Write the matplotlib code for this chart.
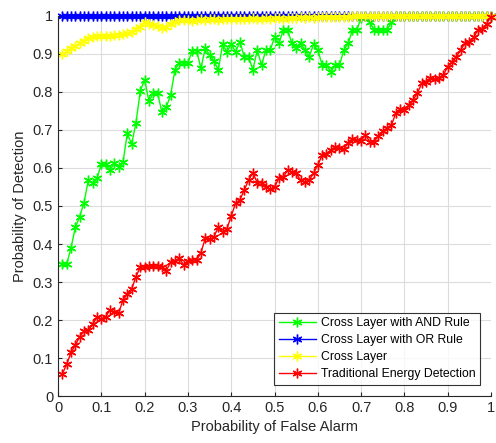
import matplotlib
matplotlib.use("Agg")
import matplotlib.pyplot as plt

plt.rcParams['font.family'] = ['Liberation Sans', 'DejaVu Sans']

# false alarm probability axis (steps of 0.01)
pf = [i / 100 for i in range(1, 101)]

# Cross Layer with AND Rule
pd_and = [0.347, 0.347, 0.39, 0.444, 0.472, 0.509, 0.568, 0.56, 0.573, 0.61,
          0.61, 0.595, 0.612, 0.603, 0.615, 0.691, 0.663, 0.719, 0.803, 0.832,
          0.775, 0.797, 0.797, 0.746, 0.76, 0.792, 0.858, 0.877, 0.877, 0.877,
          0.909, 0.909, 0.862, 0.915, 0.897, 0.882, 0.858, 0.925, 0.906, 0.925,
          0.906, 0.932, 0.893, 0.893, 0.858, 0.91, 0.871, 0.91, 0.91, 0.944,
          0.928, 0.963, 0.963, 0.928, 0.915, 0.93, 0.91, 0.893, 0.925, 0.91,
          0.871, 0.871, 0.853, 0.871, 0.871, 0.91, 0.928, 0.963, 0.963, 0.995,
          1.0, 0.985, 0.963, 0.963, 0.963, 0.963, 0.985, 1.0, 1.0, 1.0,
          1.0, 1.0, 1.0, 1.0, 1.0, 1.0, 1.0, 1.0, 1.0, 1.0,
          1.0, 1.0, 1.0, 1.0, 1.0, 1.0, 1.0, 1.0, 1.0, 1.0]

# Cross Layer with OR Rule
pd_or = [1.0] * 100

# Cross Layer
pd_cl = [0.899, 0.908, 0.915, 0.921, 0.928, 0.935, 0.943, 0.944, 0.946, 0.946,
         0.946, 0.948, 0.95, 0.951, 0.952, 0.954, 0.957, 0.965, 0.972, 0.985,
         0.98, 0.976, 0.973, 0.969, 0.972, 0.98, 0.985, 0.989, 0.99, 0.99,
         0.988, 0.99, 0.992, 0.99, 0.991, 0.993, 0.99, 0.992, 0.991, 0.993,
         0.992, 0.991, 0.993, 0.992, 0.994, 0.993, 0.992, 0.994, 0.993, 0.995,
         0.994, 0.993, 0.995, 0.994, 0.995, 0.996, 0.995, 0.996, 0.995, 0.997,
         0.996, 0.997, 0.996, 0.998, 0.997, 0.998, 0.998, 0.999, 0.999, 1.0,
         1.0, 1.0, 1.0, 1.0, 1.0, 1.0, 1.0, 1.0, 1.0, 1.0,
         1.0, 1.0, 1.0, 1.0, 1.0, 1.0, 1.0, 1.0, 1.0, 1.0,
         1.0, 1.0, 1.0, 1.0, 1.0, 1.0, 1.0, 1.0, 1.0, 1.0]

# Traditional Energy Detection
pd_ed = [0.058, 0.084, 0.115, 0.134, 0.156, 0.17, 0.174, 0.189, 0.207, 0.203,
         0.209, 0.226, 0.222, 0.218, 0.253, 0.268, 0.282, 0.314, 0.34, 0.339,
         0.342, 0.342, 0.342, 0.339, 0.33, 0.352, 0.356, 0.362, 0.345, 0.356,
         0.359, 0.357, 0.377, 0.415, 0.412, 0.419, 0.444, 0.432, 0.44, 0.474,
         0.507, 0.516, 0.542, 0.568, 0.588, 0.561, 0.561, 0.549, 0.545, 0.55,
         0.573, 0.575, 0.595, 0.59, 0.586, 0.568, 0.564, 0.568, 0.586, 0.608,
         0.634, 0.638, 0.647, 0.656, 0.652, 0.649, 0.667, 0.675, 0.673, 0.672,
         0.687, 0.669, 0.669, 0.685, 0.698, 0.704, 0.713, 0.744, 0.754, 0.753,
         0.766, 0.779, 0.797, 0.823, 0.825, 0.836, 0.834, 0.837, 0.845, 0.867,
         0.88, 0.893, 0.911, 0.928, 0.932, 0.944, 0.963, 0.965, 0.98, 0.998]

labels = ['Cross Layer with AND Rule', 'Cross Layer with OR Rule',
          'Cross Layer', 'Traditional Energy Detection']
colours = ['#00ff00', '#0000ff', '#ffff00', '#ff0000']

fig = plt.figure(figsize=(4.96, 4.43), dpi=100)
ax = fig.add_axes([0.117, 0.106, 0.873, 0.858])

# matlab style asterisk marker
star = (6, 2, 0)
for ys, lab, col in zip([pd_and, pd_or, pd_cl, pd_ed], labels, colours):
    ax.plot(pf, ys, color=col, marker=star, markersize=7, linewidth=1,
            markeredgewidth=1.0, label=lab, clip_on=False)

ax.set_xlim(0, 1)
ax.set_ylim(0, 1)
ax.set_xticks([i / 10 for i in range(11)])
ax.set_yticks([i / 10 for i in range(11)])
ax.set_xticklabels(['0', '0.1', '0.2', '0.3', '0.4', '0.5', '0.6', '0.7', '0.8', '0.9', '1'])
ax.set_yticklabels(['0', '0.1', '0.2', '0.3', '0.4', '0.5', '0.6', '0.7', '0.8', '0.9', '1'])
ax.grid(True, color='#dcdcdc', linewidth=0.8)
ax.set_axisbelow(True)
ax.tick_params(direction='in', labelsize=10.5, colors='#262626', length=3)
for s in ['top', 'right']:
    ax.spines[s].set_visible(False)
for s in ['left', 'bottom']:
    ax.spines[s].set_color('#262626')

ax.set_xlabel('Probability of False Alarm', fontsize=10.5, color='#262626')
ax.set_ylabel('Probability of Detection', fontsize=10.5, color='#262626')

leg = ax.legend(loc='lower right', fontsize=8.8, frameon=True, fancybox=False,
                edgecolor='black', handlelength=3, borderaxespad=0.9,
                labelspacing=0.4, handletextpad=0.4, borderpad=0.4)
leg.get_frame().set_linewidth(0.8)

fig.savefig('out.png', dpi=100)
